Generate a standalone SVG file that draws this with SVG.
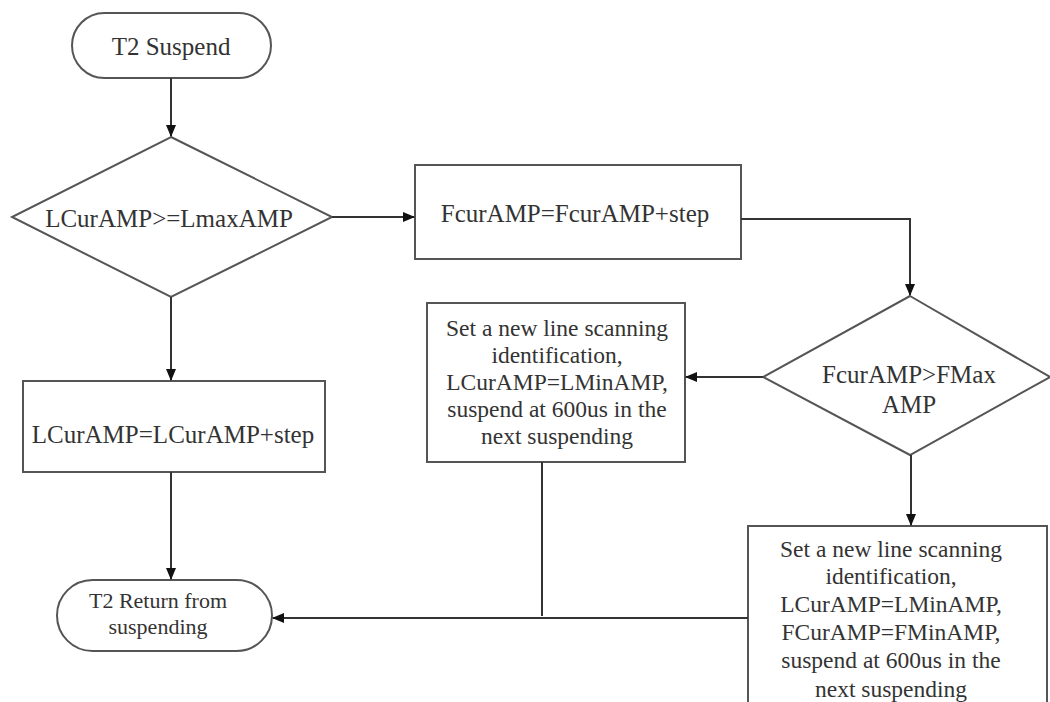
<svg xmlns="http://www.w3.org/2000/svg" width="1050" height="702" viewBox="0 0 1050 702">
<defs>
<marker id="ah" markerWidth="12" markerHeight="10" refX="11" refY="5" orient="auto" markerUnits="userSpaceOnUse">
<path d="M0,0 L12,5 L0,10 Z" fill="#111"/>
</marker>
<style>
.shape{fill:#fff;stroke:#555;stroke-width:2}
.conn{fill:none;stroke:#333;stroke-width:2}
text{fill:#333;text-anchor:middle}
.t25{font-size:25px}
.t23{font-size:23.5px}
.t22{font-size:22px}
</style>
</defs>
<rect width="1050" height="702" fill="#fff"/>
<g font-family="'Liberation Serif', 'DejaVu Serif', serif">
<g id="start">
<rect class="shape" x="72" y="13" width="199" height="65" rx="32.5"/>
<text class="t25" x="171" y="55">T2 Suspend</text>
</g>
<g id="decision1">
<polygon class="shape" points="171,137 332,217 171,297 12,217"/>
<text class="t25" x="169" y="227">LCurAMP&gt;=LmaxAMP</text>
</g>
<g id="fstep">
<rect class="shape" x="415" y="165" width="326" height="94"/>
<text class="t25" x="575" y="222">FcurAMP=FcurAMP+step</text>
</g>
<g id="decision2">
<polygon class="shape" points="910,296 1050,377 910,455 763,377"/>
<text class="t25" x="909" y="383">FcurAMP&gt;FMax</text>
<text class="t25" x="909" y="413">AMP</text>
</g>
<g id="lstep">
<rect class="shape" x="23" y="381" width="302" height="91"/>
<text class="t25" x="173" y="443">LCurAMP=LCurAMP+step</text>
</g>
<g id="reset1">
<rect class="shape" x="427" y="303" width="258" height="159"/>
<text class="t23" x="557" y="336">Set a new line scanning</text>
<text class="t23" x="557" y="363">identification,</text>
<text class="t23" x="557" y="390">LCurAMP=LMinAMP,</text>
<text class="t23" x="557" y="417">suspend at 600us in the</text>
<text class="t23" x="557" y="444">next suspending</text>
</g>
<g id="reset2">
<rect class="shape" x="748" y="526" width="299" height="178"/>
<text class="t23" x="891" y="557">Set a new line scanning</text>
<text class="t23" x="891" y="584">identification,</text>
<text class="t23" x="891" y="612">LCurAMP=LMinAMP,</text>
<text class="t23" x="891" y="640">FCurAMP=FMinAMP,</text>
<text class="t23" x="891" y="668">suspend at 600us in the</text>
<text class="t23" x="891" y="697">next suspending</text>
</g>
<g id="end">
<rect class="shape" x="57" y="580" width="215" height="71" rx="35.5"/>
<text class="t22" x="158" y="608">T2 Return from</text>
<text class="t22" x="158" y="634">suspending</text>
</g>
</g>
<g id="connectors">
<path class="conn" d="M171,78 V136" marker-end="url(#ah)"/>
<path class="conn" d="M171,297 V380" marker-end="url(#ah)"/>
<path class="conn" d="M171,472 V579" marker-end="url(#ah)"/>
<path class="conn" d="M332,217 H414" marker-end="url(#ah)"/>
<path class="conn" d="M741,219 H910 V295" marker-end="url(#ah)"/>
<path class="conn" d="M763,377 H686" marker-end="url(#ah)"/>
<path class="conn" d="M911,455 V525" marker-end="url(#ah)"/>
<path class="conn" d="M748,618 H273" marker-end="url(#ah)"/>
<path class="conn" d="M542,462 V616"/>
</g>
</svg>
